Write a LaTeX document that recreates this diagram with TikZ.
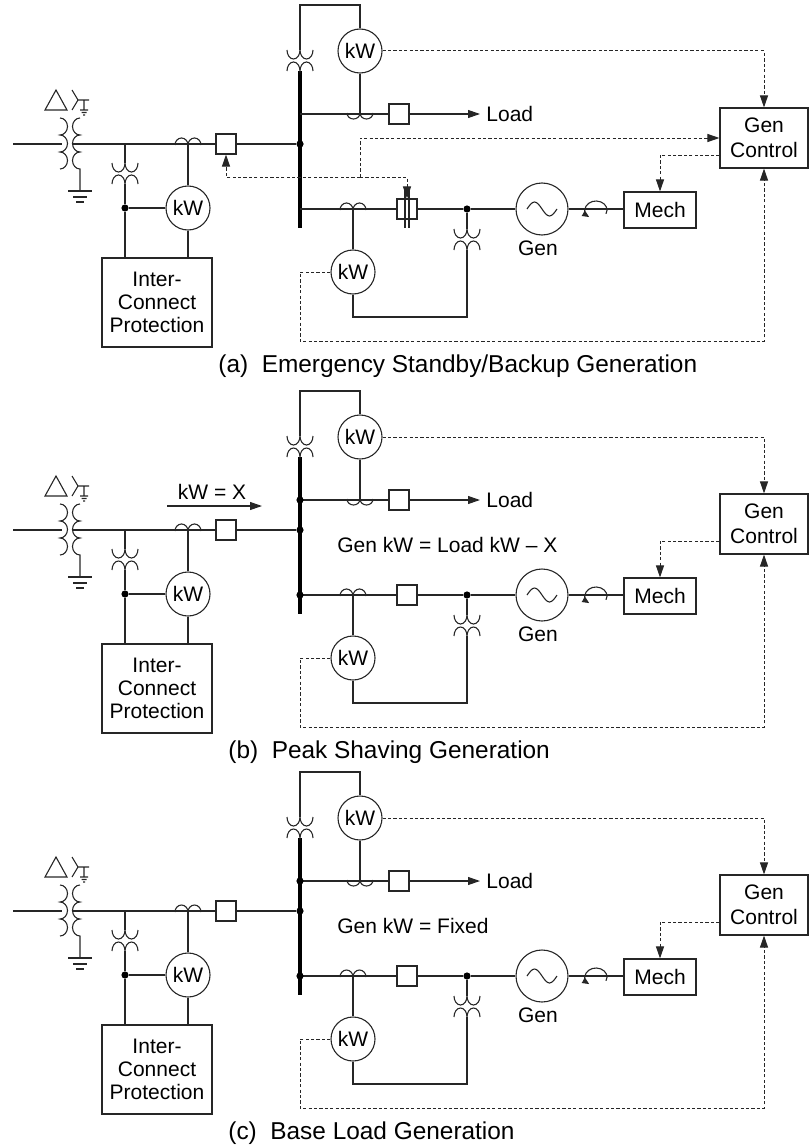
\documentclass[tikz,border=0pt]{standalone}
\usepackage{fontspec}
\setmainfont{Liberation Sans}
\usetikzlibrary{arrows.meta}

\tikzset{
	wire/.style={draw=black!85, line width=0.55pt},
	bus/.style={draw=black, line width=1.8pt},
	ctl/.style={draw=black!85, line width=0.5pt, dash pattern=on 1.6pt off 1.1pt},
	meter/.style={circle, draw=black!85, line width=0.55pt, minimum size=22pt, inner sep=0pt},
	brk/.style={rectangle, draw=black!85, line width=0.55pt, minimum size=10pt, inner sep=0pt, fill=white},
	blk/.style={rectangle, draw=black!85, line width=0.55pt, inner sep=0pt, align=center},
	dot/.style={circle, fill=black, minimum size=3.6pt, inner sep=0pt},
	lbl/.style={inner sep=0pt},
}

% current transformer humps on a line, and a voltage transformer
\newcommand{\ctup}[2]{\draw[wire] (#1,#2) ++(-13,0) arc[start angle=180,end angle=360,x radius=6.5,y radius=7] arc[start angle=180,end angle=360,x radius=6.5,y radius=7];}
\newcommand{\ctdn}[2]{\draw[wire] (#1,#2) ++(-13,0) arc[start angle=180,end angle=0,x radius=6.5,y radius=6] arc[start angle=180,end angle=0,x radius=6.5,y radius=6];}
\newcommand{\ptv}[3]{%
	\draw[wire] (#1,#2) ++(-13,0) arc[start angle=180,end angle=0,x radius=6.5,y radius=9] arc[start angle=180,end angle=0,x radius=6.5,y radius=9];
	\draw[wire] (#1,#3) ++(-13,0) arc[start angle=180,end angle=360,x radius=6.5,y radius=9] arc[start angle=180,end angle=360,x radius=6.5,y radius=9];}

\newcommand{\genscheme}{%
	% utility transformer
	\draw[wire] (45,110) -- (56,90) -- (67,110) -- cycle;
	\draw[wire] (72,90) -- (78,100) -- (72,110) (78,100) -- (89,100) (84,100) -- (84,110)
		(80,110) -- (88,110) (81.5,112.5) -- (86.5,112.5) (83,115) -- (85,115);
	\draw[wire] (60,118) arc[start angle=270,end angle=450,x radius=7.5,y radius=8.5]
		arc[start angle=270,end angle=450,x radius=7.5,y radius=8.5]
		arc[start angle=270,end angle=450,x radius=7.5,y radius=8.5];
	\draw[wire] (80,118) arc[start angle=270,end angle=90,x radius=7.5,y radius=8.5]
		arc[start angle=270,end angle=90,x radius=7.5,y radius=8.5]
		arc[start angle=270,end angle=90,x radius=7.5,y radius=8.5] -- (80,191);
	\draw[wire] (68,191) -- (92,191) (73,197) -- (87,197) (76,202) -- (84,202);
	% bus
	\draw[bus] (300,71) -- (300,228);
	\node[dot] (jf) at (300,144) {};
	% utility feed
	\node[brk] (bfeed) at (226,144) {};
	\draw[wire] (13,144) -- (62,144) (73,144) -- (bfeed.west) (bfeed.east) -- (jf);
	\node[meter] (mfeed) at (188,208) {kW};
	\ctup{188}{145}
	\draw[wire] (188,145) -- (mfeed.north);
	\node[blk, minimum width=55pt, minimum height=44.5pt] (prot) at (157,302.5) {Inter-\\Connect\\Protection};
	\draw[wire] (mfeed.south) -- (mfeed.south |- prot.north);
	\draw[wire] (125,144) -- (125,163);
	\ptv{125}{163}{184}
	\node[dot] (jp) at (125,208) {};
	\draw[wire] (125,184) -- (jp) -- (jp |- prot.north) (jp) -- (mfeed.west);
	% load
	\ptv{300}{50}{71}
	\node[meter] (mload) at (360,51) {kW};
	\draw[wire] (300,50) -- (300,5) -| (mload.north);
	\ctdn{360}{113}
	\draw[wire] (mload.south) -- (360,113);
	\node[brk] (bload) at (399,114) {};
	\coordinate (ldend) at (480,114);
	\draw[wire] (300,114) -- (bload.west);
	\draw[wire,->] (bload.east) -- (ldend);
	\node[lbl, anchor=west] (ldtxt) at (486,114) {Load};
	% generator
	\node[circle, draw=black!85, line width=0.55pt, minimum size=26pt] (gen) at (542,209) {};
	\node[brk] (bgen) at (407,209) {};
	\node[dot] (jg) at (467,209) {};
	\draw[wire] (300,209) -- (bgen.west) (bgen.east) -- (jg) -- (gen.west);
	\ctup{353}{210}
	\node[meter] (mgen) at (353,272) {kW};
	\draw[wire] (353,210) -- (mgen.north);
	\draw[wire] (jg) -- (467,229);
	\ptv{467}{229}{250}
	\draw[wire] (467,250) -- (467,317) -| (mgen.south);
	\draw[wire] (527,209) sin (534.5,202) cos (542,209) sin (549.5,216) cos (557,209);
	\node (gentxt) at (538,248) {Gen};
	\node[blk, minimum width=36pt, minimum height=18pt] (mech) at (660,210) {Mech};
	\draw[wire] (gen.east) -- (gen.east -| mech.west);
	\draw[wire,-{Triangle[length=3.5pt,width=3pt]}] (596,210) ++(25:11 and 9) arc[start angle=25,end angle=-232,x radius=11,y radius=9];
	% control
	\node[blk, minimum width=44pt, minimum height=30pt, font=\fontsize{10.5}{12.5}\selectfont] (gctl) at (764,138) {Gen\\Control};
	\draw[ctl,->] (mload.east) -| (gctl.north);
	\draw[ctl,->] (mgen.west) -- (300,272) -- (300,341) -| (gctl.south);
	\draw[ctl,->] (gctl.west) ++(0,17) -| (mech.north);
}

\begin{document}
\begin{tikzpicture}[x=0.5pt, y=-0.5pt, font=\fontsize{10.5}{11.5}\selectfont, >={Triangle[length=6pt,width=4pt]}]
	\useasboundingbox (0,0) rectangle (809,1145);

	\begin{scope}[name prefix=a-]
		\genscheme
		\coordinate (split) at (360,177);
		\draw[ctl,->] (split) |- (gctl.west);
		\draw[ctl,->] (split) -| (bfeed.south);
		\draw[wire] (405,188) -- (405,228) (409,188) -- (409,228);
		\draw[ctl,->] (split) -| (bgen.north);
		\node[lbl, anchor=west, font=\fontsize{12.2}{14}\selectfont] (cap) at (218,366) {(a)\ \ Emergency Standby/Backup Generation};
	\end{scope}

	\begin{scope}[shift={(0,386)}, name prefix=b-]
		\genscheme
		\node[dot] (jl) at (300,114) {};
		\node[dot] (jb) at (300,209) {};
		\coordinate (kwa) at (167,120);
		\coordinate (kwb) at (262,120);
		\draw[wire,->] (kwa) -- (kwb);
		\node[lbl] (kwtxt) at (212,106) {kW = X};
		\node[lbl, anchor=west] (eqtxt) at (337,159) {Gen kW = Load kW -- X};
		\node[lbl, anchor=west, font=\fontsize{12.2}{14}\selectfont] (cap) at (228,366) {(b)\ \ Peak Shaving Generation};
	\end{scope}

	\begin{scope}[shift={(0,767)}, name prefix=c-]
		\genscheme
		\node[dot] (jl) at (300,114) {};
		\node[dot] (jb) at (300,209) {};
		\node[lbl, anchor=west] (eqtxt) at (337,159) {Gen kW = Fixed};
		\node[lbl, anchor=west, font=\fontsize{12.2}{14}\selectfont] (cap) at (228,366) {(c)\ \ Base Load Generation};
	\end{scope}
\end{tikzpicture}
\end{document}
